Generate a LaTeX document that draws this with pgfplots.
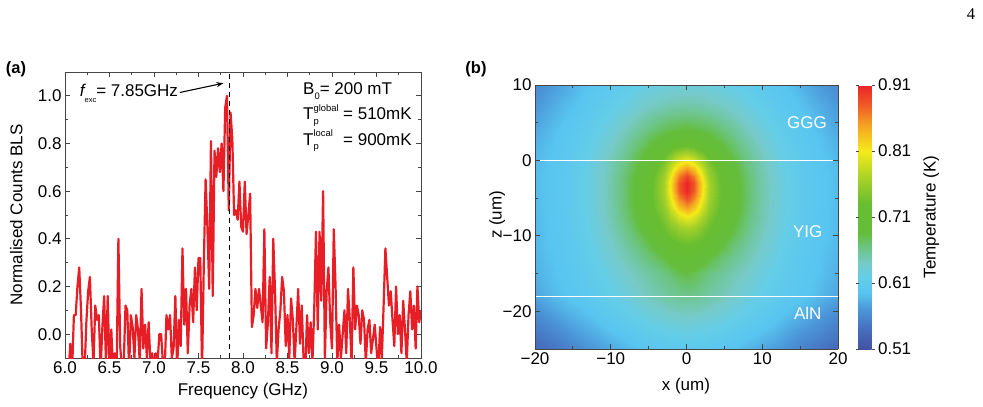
\documentclass[border=0pt]{standalone}
\usepackage{fontspec}
\setmainfont{Liberation Sans}
\newfontfamily\pagefont{Liberation Serif}
\usepackage{pgfplots}
\pgfplotsset{compat=1.18}
\usetikzlibrary{arrows.meta}

\definecolor{specred}{RGB}{232,30,38}
\definecolor{framegray}{RGB}{70,70,70}
\newcommand{\lbl}{\fontsize{17}{20}\selectfont}
\newcommand{\smallscript}{\fontsize{9.4}{10}\selectfont}
% symbol with stacked superscript and subscript, set in the text font
\newcommand{\supsub}[3]{#1\rlap{\raisebox{0.5em}{\smallscript #2}}\raisebox{-0.27em}{\smallscript #3}}

\pgfplotsset{
  colormap={temperature}{
    rgb255(0cm)=(66,82,163);
    rgb255(6cm)=(70,110,190);
    rgb255(12cm)=(75,150,215);
    rgb255(17cm)=(88,197,240);
    rgb255(22cm)=(100,205,232);
    rgb255(26cm)=(118,202,200);
    rgb255(31cm)=(108,196,128);
    rgb255(35cm)=(100,190,60);
    rgb255(44cm)=(104,190,48);
    rgb255(52cm)=(170,210,40);
    rgb255(60cm)=(245,235,25);
    rgb255(68cm)=(245,160,35);
    rgb255(74cm)=(240,90,40);
    rgb255(80cm)=(235,35,40)
  },
  panel/.style={
    scale only axis,
    axis line style={framegray, line width=0.8pt},
    every tick/.style={framegray, line width=0.8pt},
    tick align=inside,
    major tick length=5pt,
    minor tick length=3pt,
    /pgf/number format/assume math mode=true,
    tick label style={font=\lbl},
    label style={font=\lbl},
  },
}

\begin{document}
\begin{tikzpicture}[font=\lbl]
\useasboundingbox (0pt,0pt) rectangle (983pt,-407pt);

% ---------------- (a) BLS spectrum ----------------
\begin{axis}[
  panel,
  at={(65pt,-358pt)}, anchor=south west,
  width=356pt, height=286pt,
  xmin=6, xmax=10, ymin=-0.1, ymax=1.1,
  xtick={6,6.5,...,10}, minor xtick={6.25,6.75,...,9.75},
  ytick={0,0.2,0.4,0.6,0.8,1.0}, minor ytick={0.1,0.3,0.5,0.7,0.9},
  xticklabel style={/pgf/number format/.cd, fixed, fixed zerofill, precision=1},
  yticklabel style={/pgf/number format/.cd, fixed, fixed zerofill, precision=1},
  xlabel={Frequency (GHz)}, ylabel={Normalised Counts BLS},
  every axis x label/.style={at={(axis description cs:0.5,-0.115)}, anchor=center},
  every axis y label/.style={at={(axis description cs:-0.137,0.5)}, rotate=90, anchor=center},
]
\addplot[specred, line width=2.2pt, line join=round] coordinates {
(6.00,-0.15) (6.02,-0.15) (6.04,-0.15) (6.06,-0.04) (6.08,-0.15) (6.10,0.08) (6.12,0.08) (6.14,0.20) (6.16,0.28) (6.18,0.10)
(6.20,-0.15) (6.22,-0.15) (6.24,0.05) (6.26,0.18) (6.28,0.24) (6.30,0.02) (6.32,-0.12) (6.34,0.12) (6.36,0.06) (6.38,0.08)
(6.40,-0.15) (6.42,0.03) (6.44,0.16) (6.46,-0.12) (6.48,0.16) (6.50,-0.15) (6.52,0.02) (6.54,-0.15) (6.56,-0.08) (6.58,-0.15)
(6.60,0.40) (6.62,-0.05) (6.64,-0.15) (6.66,-0.12) (6.68,0.12) (6.70,0.10) (6.72,-0.15) (6.74,0.08) (6.76,0.03) (6.78,-0.10)
(6.80,0.08) (6.82,0.02) (6.84,-0.12) (6.86,0.19) (6.88,-0.06) (6.90,0.04) (6.92,-0.10) (6.94,0.05) (6.96,-0.12) (6.98,-0.08)
(7.00,-0.15) (7.02,-0.08) (7.04,-0.12) (7.06,0.00) (7.08,0.00) (7.10,-0.12) (7.12,-0.15) (7.14,0.08) (7.16,0.02) (7.18,0.08)
(7.20,-0.10) (7.22,-0.06) (7.24,0.16) (7.26,-0.15) (7.28,0.06) (7.30,-0.05) (7.32,0.36) (7.34,0.04) (7.36,0.19) (7.38,-0.08)
(7.40,0.12) (7.42,0.19) (7.44,0.05) (7.46,0.28) (7.48,0.10) (7.50,0.32) (7.52,0.32) (7.54,-0.15) (7.56,0.30) (7.58,0.65)
(7.60,0.45) (7.62,0.19) (7.64,0.81) (7.66,0.16) (7.68,0.77) (7.70,0.66) (7.72,0.78) (7.74,0.68) (7.76,0.80) (7.78,0.60)
(7.80,0.95) (7.82,1.00) (7.84,0.52) (7.86,0.93) (7.88,0.82) (7.90,0.50) (7.92,0.52) (7.94,0.48) (7.96,0.64) (7.98,0.45)
(8.00,0.43) (8.02,0.64) (8.04,0.42) (8.06,0.50) (8.08,0.59) (8.10,0.03) (8.12,0.08) (8.14,0.19) (8.16,0.11) (8.18,0.19)
(8.20,0.12) (8.22,0.05) (8.24,0.44) (8.26,-0.06) (8.28,0.05) (8.30,0.24) (8.32,-0.08) (8.34,0.40) (8.36,0.18) (8.38,-0.12)
(8.40,0.02) (8.42,0.10) (8.44,0.24) (8.46,0.18) (8.48,-0.05) (8.50,0.08) (8.52,-0.10) (8.54,0.15) (8.56,0.06) (8.58,-0.12)
(8.60,0.03) (8.62,0.19) (8.64,-0.04) (8.66,0.12) (8.68,-0.10) (8.70,-0.15) (8.72,0.08) (8.74,-0.08) (8.76,0.05) (8.78,-0.12)
(8.80,0.10) (8.82,0.43) (8.84,0.02) (8.86,0.43) (8.88,0.14) (8.90,0.60) (8.92,-0.10) (8.94,0.18) (8.96,0.28) (8.98,0.05)
(9.00,-0.06) (9.02,0.44) (9.04,0.20) (9.06,-0.12) (9.08,0.04) (9.10,-0.10) (9.12,0.00) (9.14,0.10) (9.16,-0.08) (9.18,0.19)
(9.20,0.06) (9.22,-0.12) (9.24,0.28) (9.26,0.02) (9.28,0.12) (9.30,0.08) (9.32,-0.04) (9.34,0.10) (9.36,0.06) (9.38,-0.12)
(9.40,0.02) (9.42,0.06) (9.44,-0.08) (9.46,-0.02) (9.48,0.04) (9.50,-0.06) (9.52,-0.15) (9.54,0.03) (9.56,-0.10) (9.58,0.12)
(9.60,0.36) (9.62,0.24) (9.64,0.12) (9.66,0.18) (9.68,0.06) (9.70,-0.05) (9.72,0.20) (9.74,0.00) (9.76,0.08) (9.78,-0.08)
(9.80,0.14) (9.82,0.02) (9.84,-0.12) (9.86,0.08) (9.88,0.18) (9.90,0.02) (9.92,0.12) (9.94,-0.06) (9.96,0.20) (9.98,0.05)
(10.00,0.10)
};
% excitation frequency
\addplot[black, line width=1.2pt, dash pattern=on 5pt off 4pt] coordinates {(7.85,-0.1) (7.85,1.1)};
\draw[-{Stealth[length=7pt,width=5pt]}, line width=1.1pt] (axis cs:7.29,1.014) -- (axis cs:7.78,1.053);
\node[anchor=base west, inner sep=0pt] at (axis cs:6.165,0.996)
  {{\itshape f}\raisebox{-0.35em}{\fontsize{7.5}{8}\selectfont exc}= 7.85GHz};
\node[anchor=base west, inner sep=0pt] at (axis cs:8.674,1.004)
  {B\raisebox{-0.3em}{\smallscript 0}= 200 mT};
\node[anchor=base west, inner sep=0pt] at (axis cs:8.674,0.899)
  {\makebox[40pt][l]{\supsub{T}{global}{p}}= 510mK};
\node[anchor=base west, inner sep=0pt] at (axis cs:8.674,0.793)
  {\makebox[40pt][l]{\supsub{T}{local}{p}}= 900mK};
\end{axis}

% ---------------- (b) temperature map ----------------
\begin{axis}[
  panel,
  at={(535pt,-349pt)}, anchor=south west,
  width=303pt, height=264pt,
  view={0}{90}, axis on top,
  xmin=-20, xmax=20, ymin=-25, ymax=10,
  xtick={-20,-10,0,10,20}, xticklabels={−20,−10,0,10,20}, minor xtick={-15,-5,5,15},
  ytick={-20,-10,0,10}, yticklabels={−20,−10,0,10}, minor ytick={-15,-5,5},
  xtick pos=both, ytick pos=both,
  xlabel={x (um)}, ylabel={z (um)},
  every axis x label/.style={at={(axis description cs:0.498,-0.14)}, anchor=center},
  every axis y label/.style={at={(axis description cs:-0.125,0.508)}, rotate=90, anchor=center},
  colormap name=temperature,
  point meta min=0.51, point meta max=0.91,
  colorbar,
  colorbar style={
    at={(parent axis.north east)}, anchor=north west, xshift=12pt,
    scale only axis, width=13pt, height=264pt,
    ytick={0.51,0.61,0.71,0.81,0.91},
    yticklabel style={font=\lbl, /pgf/number format/.cd, fixed, fixed zerofill, precision=2},
    /pgf/number format/assume math mode=true,
    axis line style={draw=none},
    every tick/.style={framegray, line width=0.8pt},
    tick align=outside, major tick length=3pt,
    ylabel={Temperature (K)},
    every axis y label/.style={at={(axis description cs:5.6,0.5)}, rotate=90, anchor=center, font=\lbl},
  },
]
\addplot3[surf, shader=interp, mesh/cols=21] table[row sep=\\, x=x, y=z, z=T] {
x z T\\
-20 10 0.562\\ -16 10 0.580\\ -13 10 0.595\\ -10 10 0.606\\ -8 10 0.613\\ -6 10 0.620\\ -4.5 10 0.624\\ -3 10 0.627\\ -2 10 0.629\\ -1 10 0.630\\ 0 10 0.630\\ 1 10 0.630\\ 2 10 0.629\\ 3 10 0.627\\ 4.5 10 0.624\\ 6 10 0.620\\ 8 10 0.613\\ 10 10 0.606\\ 13 10 0.595\\ 16 10 0.580\\ 20 10 0.562\\
-20 7 0.572\\ -16 7 0.590\\ -13 7 0.603\\ -10 7 0.618\\ -8 7 0.628\\ -6 7 0.638\\ -4.5 7 0.644\\ -3 7 0.649\\ -2 7 0.652\\ -1 7 0.653\\ 0 7 0.654\\ 1 7 0.653\\ 2 7 0.652\\ 3 7 0.649\\ 4.5 7 0.644\\ 6 7 0.638\\ 8 7 0.628\\ 10 7 0.618\\ 13 7 0.603\\ 16 7 0.590\\ 20 7 0.572\\
-20 4 0.580\\ -16 4 0.598\\ -13 4 0.612\\ -10 4 0.630\\ -8 4 0.644\\ -6 4 0.658\\ -4.5 4 0.668\\ -3 4 0.677\\ -2 4 0.681\\ -1 4 0.684\\ 0 4 0.686\\ 1 4 0.684\\ 2 4 0.681\\ 3 4 0.677\\ 4.5 4 0.668\\ 6 4 0.658\\ 8 4 0.644\\ 10 4 0.630\\ 13 4 0.612\\ 16 4 0.598\\ 20 4 0.580\\
-20 2 0.585\\ -16 2 0.601\\ -13 2 0.617\\ -10 2 0.638\\ -8 2 0.654\\ -6 2 0.672\\ -4.5 2 0.686\\ -3 2 0.701\\ -2 2 0.714\\ -1 2 0.724\\ 0 2 0.728\\ 1 2 0.724\\ 2 2 0.714\\ 3 2 0.701\\ 4.5 2 0.686\\ 6 2 0.672\\ 8 2 0.654\\ 10 2 0.638\\ 13 2 0.617\\ 16 2 0.601\\ 20 2 0.585\\
-20 0 0.588\\ -16 0 0.603\\ -13 0 0.621\\ -10 0 0.645\\ -8 0 0.663\\ -6 0 0.686\\ -4.5 0 0.707\\ -3 0 0.736\\ -2 0 0.762\\ -1 0 0.789\\ 0 0 0.802\\ 1 0 0.789\\ 2 0 0.762\\ 3 0 0.736\\ 4.5 0 0.707\\ 6 0 0.686\\ 8 0 0.663\\ 10 0 0.645\\ 13 0 0.621\\ 16 0 0.603\\ 20 0 0.588\\
-20 -1 0.589\\ -16 -1 0.604\\ -13 -1 0.622\\ -10 -1 0.647\\ -8 -1 0.667\\ -6 -1 0.692\\ -4.5 -1 0.718\\ -3 -1 0.751\\ -2 -1 0.786\\ -1 -1 0.828\\ 0 -1 0.849\\ 1 -1 0.828\\ 2 -1 0.786\\ 3 -1 0.751\\ 4.5 -1 0.718\\ 6 -1 0.692\\ 8 -1 0.667\\ 10 -1 0.647\\ 13 -1 0.622\\ 16 -1 0.604\\ 20 -1 0.589\\
-20 -2 0.590\\ -16 -2 0.605\\ -13 -2 0.623\\ -10 -2 0.649\\ -8 -2 0.670\\ -6 -2 0.696\\ -4.5 -2 0.725\\ -3 -2 0.762\\ -2 -2 0.807\\ -1 -2 0.864\\ 0 -2 0.891\\ 1 -2 0.864\\ 2 -2 0.807\\ 3 -2 0.762\\ 4.5 -2 0.725\\ 6 -2 0.696\\ 8 -2 0.670\\ 10 -2 0.649\\ 13 -2 0.623\\ 16 -2 0.605\\ 20 -2 0.590\\
-20 -3 0.590\\ -16 -3 0.605\\ -13 -3 0.624\\ -10 -3 0.650\\ -8 -3 0.671\\ -6 -3 0.699\\ -4.5 -3 0.728\\ -3 -3 0.768\\ -2 -3 0.819\\ -1 -3 0.882\\ 0 -3 0.910\\ 1 -3 0.882\\ 2 -3 0.819\\ 3 -3 0.768\\ 4.5 -3 0.728\\ 6 -3 0.699\\ 8 -3 0.671\\ 10 -3 0.650\\ 13 -3 0.624\\ 16 -3 0.605\\ 20 -3 0.590\\
-20 -4 0.590\\ -16 -4 0.605\\ -13 -4 0.624\\ -10 -4 0.650\\ -8 -4 0.672\\ -6 -4 0.700\\ -4.5 -4 0.730\\ -3 -4 0.768\\ -2 -4 0.818\\ -1 -4 0.880\\ 0 -4 0.909\\ 1 -4 0.880\\ 2 -4 0.818\\ 3 -4 0.768\\ 4.5 -4 0.730\\ 6 -4 0.700\\ 8 -4 0.672\\ 10 -4 0.650\\ 13 -4 0.624\\ 16 -4 0.605\\ 20 -4 0.590\\
-20 -5 0.590\\ -16 -5 0.605\\ -13 -5 0.624\\ -10 -5 0.650\\ -8 -5 0.672\\ -6 -5 0.700\\ -4.5 -5 0.729\\ -3 -5 0.764\\ -2 -5 0.809\\ -1 -5 0.862\\ 0 -5 0.889\\ 1 -5 0.862\\ 2 -5 0.809\\ 3 -5 0.764\\ 4.5 -5 0.729\\ 6 -5 0.700\\ 8 -5 0.672\\ 10 -5 0.650\\ 13 -5 0.624\\ 16 -5 0.605\\ 20 -5 0.590\\
-20 -6 0.590\\ -16 -6 0.605\\ -13 -6 0.624\\ -10 -6 0.649\\ -8 -6 0.671\\ -6 -6 0.698\\ -4.5 -6 0.727\\ -3 -6 0.758\\ -2 -6 0.794\\ -1 -6 0.837\\ 0 -6 0.858\\ 1 -6 0.837\\ 2 -6 0.794\\ 3 -6 0.758\\ 4.5 -6 0.727\\ 6 -6 0.698\\ 8 -6 0.671\\ 10 -6 0.649\\ 13 -6 0.624\\ 16 -6 0.605\\ 20 -6 0.590\\
-20 -7.5 0.589\\ -16 -7.5 0.604\\ -13 -7.5 0.622\\ -10 -7.5 0.648\\ -8 -7.5 0.668\\ -6 -7.5 0.694\\ -4.5 -7.5 0.720\\ -3 -7.5 0.746\\ -2 -7.5 0.770\\ -1 -7.5 0.795\\ 0 -7.5 0.808\\ 1 -7.5 0.795\\ 2 -7.5 0.770\\ 3 -7.5 0.746\\ 4.5 -7.5 0.720\\ 6 -7.5 0.694\\ 8 -7.5 0.668\\ 10 -7.5 0.648\\ 13 -7.5 0.622\\ 16 -7.5 0.604\\ 20 -7.5 0.589\\
-20 -9 0.589\\ -16 -9 0.604\\ -13 -9 0.621\\ -10 -9 0.645\\ -8 -9 0.663\\ -6 -9 0.686\\ -4.5 -9 0.708\\ -3 -9 0.733\\ -2 -9 0.748\\ -1 -9 0.762\\ 0 -9 0.768\\ 1 -9 0.762\\ 2 -9 0.748\\ 3 -9 0.733\\ 4.5 -9 0.708\\ 6 -9 0.686\\ 8 -9 0.663\\ 10 -9 0.645\\ 13 -9 0.621\\ 16 -9 0.604\\ 20 -9 0.589\\
-20 -11 0.588\\ -16 -11 0.602\\ -13 -11 0.618\\ -10 -11 0.639\\ -8 -11 0.655\\ -6 -11 0.672\\ -4.5 -11 0.688\\ -3 -11 0.711\\ -2 -11 0.724\\ -1 -11 0.731\\ 0 -11 0.734\\ 1 -11 0.731\\ 2 -11 0.724\\ 3 -11 0.711\\ 4.5 -11 0.688\\ 6 -11 0.672\\ 8 -11 0.655\\ 10 -11 0.639\\ 13 -11 0.618\\ 16 -11 0.602\\ 20 -11 0.588\\
-20 -13 0.586\\ -16 -13 0.601\\ -13 -13 0.615\\ -10 -13 0.634\\ -8 -13 0.647\\ -6 -13 0.660\\ -4.5 -13 0.670\\ -3 -13 0.683\\ -2 -13 0.694\\ -1 -13 0.700\\ 0 -13 0.704\\ 1 -13 0.700\\ 2 -13 0.694\\ 3 -13 0.683\\ 4.5 -13 0.670\\ 6 -13 0.660\\ 8 -13 0.647\\ 10 -13 0.634\\ 13 -13 0.615\\ 16 -13 0.601\\ 20 -13 0.586\\
-20 -15 0.584\\ -16 -15 0.599\\ -13 -15 0.611\\ -10 -15 0.627\\ -8 -15 0.638\\ -6 -15 0.648\\ -4.5 -15 0.656\\ -3 -15 0.664\\ -2 -15 0.670\\ -1 -15 0.678\\ 0 -15 0.682\\ 1 -15 0.678\\ 2 -15 0.670\\ 3 -15 0.664\\ 4.5 -15 0.656\\ 6 -15 0.648\\ 8 -15 0.638\\ 10 -15 0.627\\ 13 -15 0.611\\ 16 -15 0.599\\ 20 -15 0.584\\
-20 -18 0.578\\ -16 -18 0.595\\ -13 -18 0.605\\ -10 -18 0.619\\ -8 -18 0.629\\ -6 -18 0.639\\ -4.5 -18 0.646\\ -3 -18 0.652\\ -2 -18 0.656\\ -1 -18 0.659\\ 0 -18 0.660\\ 1 -18 0.659\\ 2 -18 0.656\\ 3 -18 0.652\\ 4.5 -18 0.646\\ 6 -18 0.639\\ 8 -18 0.629\\ 10 -18 0.619\\ 13 -18 0.605\\ 16 -18 0.595\\ 20 -18 0.578\\
-20 -21 0.558\\ -16 -21 0.578\\ -13 -21 0.590\\ -10 -21 0.604\\ -8 -21 0.612\\ -6 -21 0.621\\ -4.5 -21 0.627\\ -3 -21 0.631\\ -2 -21 0.634\\ -1 -21 0.635\\ 0 -21 0.636\\ 1 -21 0.635\\ 2 -21 0.634\\ 3 -21 0.631\\ 4.5 -21 0.627\\ 6 -21 0.621\\ 8 -21 0.612\\ 10 -21 0.604\\ 13 -21 0.590\\ 16 -21 0.578\\ 20 -21 0.558\\
-20 -25 0.535\\ -16 -25 0.552\\ -13 -25 0.568\\ -10 -25 0.580\\ -8 -25 0.587\\ -6 -25 0.595\\ -4.5 -25 0.599\\ -3 -25 0.602\\ -2 -25 0.604\\ -1 -25 0.605\\ 0 -25 0.606\\ 1 -25 0.605\\ 2 -25 0.604\\ 3 -25 0.602\\ 4.5 -25 0.599\\ 6 -25 0.595\\ 8 -25 0.587\\ 10 -25 0.580\\ 13 -25 0.568\\ 16 -25 0.552\\ 20 -25 0.535\\
};
% layer interfaces
\addplot3[white, line width=1.2pt] coordinates {(-20,0,1) (20,0,1)};
\addplot3[white, line width=1.2pt] coordinates {(-20,-18,1) (20,-18,1)};
\node[white] at (axis cs:15.9,5.0,1) {GGG};
\node[white] at (axis cs:16.0,-9.5,1) {YIG};
\node[white] at (axis cs:16.0,-20.3,1) {AlN};
\end{axis}

\node[font=\fontsize{16.5}{19}\selectfont\bfseries] at (16pt,-69pt) {(a)};
\node[font=\fontsize{16.5}{19}\selectfont\bfseries] at (476pt,-69pt) {(b)};
\node[font=\fontsize{16.5}{19}\selectfont\pagefont] at (971pt,-14pt) {4};
\end{tikzpicture}
\end{document}
